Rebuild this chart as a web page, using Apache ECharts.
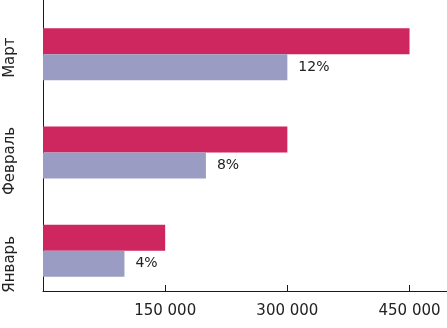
<!DOCTYPE html>
<html><head><meta charset="utf-8">
<script src="https://cdn.jsdelivr.net/npm/echarts@6/dist/echarts.min.js"></script>
<style>html,body{margin:0;padding:0;background:#fff}#c{width:447px;height:328px}</style>
</head><body><div id="c"></div>
<script>
const categories = ['Январь', 'Февраль', 'Март'];
const seriesA = [150000, 300000, 450000];
const seriesB = [100000, 200000, 300000];
const pctLabels = ['4%', '8%', '12%'];
const tickValues = [150000, 300000, 450000];

const FONT = 'DejaVu Sans';
const XMAX = 496000;
const chart = echarts.init(document.getElementById('c'));
chart.setOption({
  animation: false,
  grid: [
    {left: 43, right: 0, top: 5, bottom: 28},
    {left: 43, right: 0, top: 0, bottom: 37},
    {left: 43, right: 0, top: 6, bottom: 12}
  ],
  xAxis: [{
    type: 'value', min: 0, max: XMAX, gridIndex: 0, show: false
  }, {
    type: 'value', min: 0, max: XMAX, gridIndex: 1,
    splitLine: {show: false},
    axisLine: {show: true, lineStyle: {color: '#1a1a1a', width: 1}},
    axisTick: {show: true, inside: true, length: 6, customValues: tickValues, lineStyle: {color: '#1a1a1a'}},
    axisLabel: {customValues: tickValues, margin: 13, fontFamily: FONT, fontSize: 15, color: '#222',
      formatter: v => String(v).replace(/\B(?=(\d{3})+(?!\d))/g, ' ')}
  }, {
    type: 'value', gridIndex: 2, show: false
  }],
  yAxis: [{
    type: 'category', data: categories, gridIndex: 0, show: false
  }, {
    type: 'category', data: categories, gridIndex: 1,
    axisLine: {show: true, lineStyle: {color: '#1a1a1a', width: 1}},
    axisTick: {show: false},
    axisLabel: {show: false}
  }, {
    type: 'category', data: categories, gridIndex: 2,
    axisLine: {show: false}, axisTick: {show: false},
    axisLabel: {rotate: 90, margin: 25, fontFamily: FONT, fontSize: 15, color: '#222'}
  }],
  series: [{
    type: 'bar', data: seriesA, barWidth: 26, barGap: '0%',
    xAxisIndex: 0, yAxisIndex: 0,
    itemStyle: {color: '#CE265E'}
  }, {
    type: 'bar', data: seriesB, barWidth: 26, barGap: '0%',
    xAxisIndex: 0, yAxisIndex: 0,
    itemStyle: {color: '#9A9CC4'},
    label: {show: true, position: 'right', distance: 11, fontFamily: FONT, fontSize: 14, color: '#222',
      formatter: p => pctLabels[p.dataIndex]}
  }]
});
</script></body></html>
